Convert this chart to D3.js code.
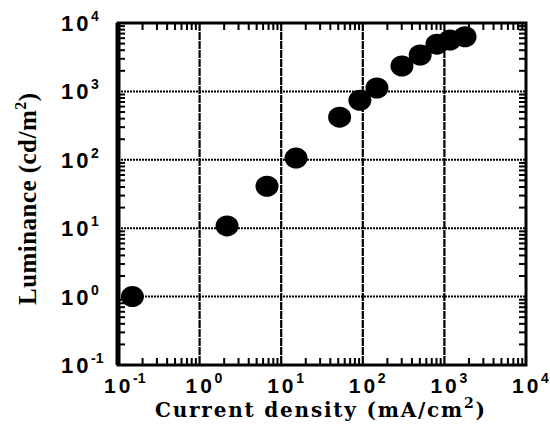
<!DOCTYPE html>
<html>
<head>
<meta charset="utf-8">
<script src="https://cdn.jsdelivr.net/npm/d3@7"></script>
<style>
  body { margin: 0; background: #fff; }
  svg { display: block; }
</style>
</head>
<body>
<div id="chart"></div>
<script>
const width = 550;
const height = 424;

// current density (mA/cm2) and luminance (cd/m2)
const currentDensity = [0.15, 2.17, 6.7, 15.2, 52, 92, 149, 302, 505, 810, 1170, 1790];
const luminance = [1.0, 10.8, 41, 106, 420, 740, 1120, 2350, 3400, 4900, 5650, 6300];

const xExponents = [-1, 0, 1, 2, 3, 4];
const yExponents = [-1, 0, 1, 2, 3, 4];

const plot = {left: 118, right: 526, top: 23, bottom: 365};

const x = d3.scaleLog().domain([1e-1, 1e4]).range([plot.left, plot.right]);
const y = d3.scaleLog().domain([1e-1, 1e4]).range([plot.bottom, plot.top]);

const svg = d3.select('#chart')
    .append('svg')
    .attr('width', width)
    .attr('height', height);

// minor ticks 2..9 of every decade
let minor = [];
for (let e = -1; e < 4; e++) {
    for (let k = 2; k < 10; k++) minor.push(k * Math.pow(10, e));
}

const ticks = svg.append('g').attr('stroke', '#000').attr('stroke-width', 2);

ticks.selectAll('.bt').data(minor).join('line')
    .attr('x1', d => x(d)).attr('x2', d => x(d))
    .attr('y1', plot.bottom).attr('y2', plot.bottom - 7);
ticks.selectAll('.tt').data(minor).join('line')
    .attr('x1', d => x(d)).attr('x2', d => x(d))
    .attr('y1', plot.top).attr('y2', plot.top + 7);
ticks.selectAll('.lt').data(minor).join('line')
    .attr('y1', d => y(d)).attr('y2', d => y(d))
    .attr('x1', plot.left).attr('x2', plot.left + 7);
ticks.selectAll('.rt').data(minor).join('line')
    .attr('y1', d => y(d)).attr('y2', d => y(d))
    .attr('x1', plot.right).attr('x2', plot.right - 7);

// grid lines at the inner decades
const inner = [0, 1, 2, 3];
const grid = svg.append('g').attr('stroke', '#000');

grid.selectAll('.vg').data(inner).join('line')
    .attr('x1', d => x(Math.pow(10, d))).attr('x2', d => x(Math.pow(10, d)))
    .attr('y1', plot.top).attr('y2', plot.bottom)
    .attr('stroke-width', 2.2)
    .attr('stroke-dasharray', '8,1');

grid.selectAll('.hg').data(inner).join('line')
    .attr('y1', d => y(Math.pow(10, d))).attr('y2', d => y(Math.pow(10, d)))
    .attr('x1', plot.left).attr('x2', plot.right)
    .attr('stroke-width', 2)
    .attr('stroke-dasharray', '2,1');

// frame
svg.append('rect')
    .attr('x', plot.left)
    .attr('y', plot.top)
    .attr('width', plot.right - plot.left)
    .attr('height', plot.bottom - plot.top)
    .attr('fill', 'none')
    .attr('stroke', '#000')
    .attr('stroke-width', 3);

svg.append('line')
    .attr('x1', plot.left).attr('x2', plot.left)
    .attr('y1', plot.top).attr('y2', plot.bottom)
    .attr('stroke', '#000')
    .attr('stroke-width', 5);

// data points
svg.append('g')
    .selectAll('ellipse')
    .data(currentDensity)
    .join('ellipse')
    .attr('cx', d => x(d))
    .attr('cy', (d, i) => y(luminance[i]))
    .attr('rx', 11.5)
    .attr('ry', 10.5)
    .attr('fill', '#000');

// tick labels
const labelFont = "'Liberation Sans', Arial, sans-serif";

const xl = svg.append('g')
    .attr('font-family', labelFont)
    .attr('font-weight', 'bold')
    .attr('fill', '#000');

xl.selectAll('.b').data(xExponents).join('text')
    .attr('x', d => x(Math.pow(10, d)) - 14)
    .attr('y', 393)
    .attr('font-size', 21)
    .attr('letter-spacing', 3)
    .text('10');
xl.selectAll('.e').data(xExponents).join('text')
    .attr('x', d => x(Math.pow(10, d)) + 15)
    .attr('y', 383)
    .attr('font-size', 14)
    .text(d => d);

const yl = svg.append('g')
    .attr('font-family', labelFont)
    .attr('font-weight', 'bold')
    .attr('fill', '#000');

yl.selectAll('.b').data(yExponents).join('text')
    .attr('x', 61)
    .attr('y', d => y(Math.pow(10, d)) + 8)
    .attr('font-size', 22)
    .attr('letter-spacing', 3)
    .text('10');
yl.selectAll('.e').data(yExponents).join('text')
    .attr('x', 91)
    .attr('y', d => y(Math.pow(10, d)) - 2)
    .attr('font-size', 14)
    .text(d => d);

// axis titles
const xTitle = svg.append('text')
    .attr('x', 320)
    .attr('y', 417)
    .attr('text-anchor', 'middle')
    .attr('font-family', "'DejaVu Serif', serif")
    .attr('font-weight', 'bold')
    .attr('font-size', 20)
    .attr('textLength', 330)
    .attr('lengthAdjust', 'spacing');
xTitle.append('tspan').text('Current  density (mA/cm');
xTitle.append('tspan').attr('dy', -9).attr('font-size', 14).text('2');
xTitle.append('tspan').attr('dy', 9).text(')');

const yTitle = svg.append('text')
    .attr('transform', 'translate(36,199) rotate(-90)')
    .attr('text-anchor', 'middle')
    .attr('font-family', "'Liberation Serif', 'Times New Roman', serif")
    .attr('font-weight', 'bold')
    .attr('font-size', 25)
    .attr('textLength', 212)
    .attr('lengthAdjust', 'spacing');
yTitle.append('tspan').text('Luminance (cd/m');
yTitle.append('tspan').attr('dy', -10).attr('font-size', 16).text('2');
yTitle.append('tspan').attr('dy', 10).text(')');
</script>
</body>
</html>
